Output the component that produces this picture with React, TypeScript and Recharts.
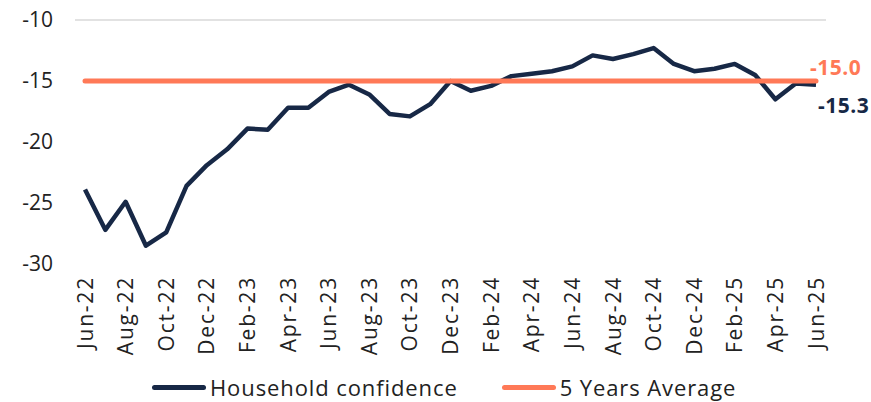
import React from 'react';
import {
  CartesianGrid,
  Legend,
  Line,
  LineChart,
  XAxis,
  YAxis
} from 'recharts';

const months = [
  'Jun-22', 'Jul-22', 'Aug-22', 'Sep-22', 'Oct-22', 'Nov-22', 'Dec-22',
  'Jan-23', 'Feb-23', 'Mar-23', 'Apr-23', 'May-23', 'Jun-23', 'Jul-23',
  'Aug-23', 'Sep-23', 'Oct-23', 'Nov-23', 'Dec-23', 'Jan-24', 'Feb-24',
  'Mar-24', 'Apr-24', 'May-24', 'Jun-24', 'Jul-24', 'Aug-24', 'Sep-24',
  'Oct-24', 'Nov-24', 'Dec-24', 'Jan-25', 'Feb-25', 'Mar-25', 'Apr-25',
  'May-25', 'Jun-25'
];

const householdConfidence = [
  -23.9, -27.2, -24.9, -28.5, -27.4, -23.6, -21.9,
  -20.6, -18.9, -19.0, -17.2, -17.2, -15.9, -15.3,
  -16.1, -17.7, -17.9, -16.9, -15.0, -15.8, -15.4,
  -14.6, -14.4, -14.2, -13.8, -12.9, -13.2, -12.8,
  -12.3, -13.6, -14.2, -14.0, -13.6, -14.5, -16.5,
  -15.2, -15.3
];

const fiveYearAverage = -15.0;

const yTicks = [-10, -15, -20, -25, -30];

const NAVY = '#172846';
const ORANGE = '#FF7957';
const FONT = '"Open Sans", "Liberation Sans", sans-serif';

const data = months.map((month, i) => ({
  month,
  household: householdConfidence[i],
  average: fiveYearAverage
}));

const lastIndex = months.length - 1;

function MonthTick({ x, y, payload }: any) {
  return (
    <g transform={`translate(${x},${y})`}>
      <text
        transform="rotate(-90)"
        textAnchor="end"
        dy="0.36em"
        fill="#222"
        fontSize={21}
        letterSpacing={1.8}
        fontFamily={FONT}
      >
        {payload.value}
      </text>
    </g>
  );
}

function EndLabel(color: string, dx: number, dy: number) {
  return (props: any) => {
    const { x, y, index, value } = props;
    if (index !== lastIndex) return null;
    return (
      <text
        x={x + dx}
        y={y + dy}
        fill={color}
        fontSize={21}
        fontWeight="bold"
        letterSpacing={0.5}
        fontFamily={FONT}
      >
        {Number(value).toFixed(1)}
      </text>
    );
  };
}

function LegendContent() {
  const item = (color: string, text: string, marginLeft: number) => (
    <div style={{ display: 'flex', alignItems: 'center', marginLeft }}>
      <div
        style={{
          width: 54,
          height: 5,
          borderRadius: 3,
          background: color,
          marginRight: 4
        }}
      />
      <span
        style={{ fontSize: 22, letterSpacing: 0.9, color: '#222', fontFamily: FONT }}
      >
        {text}
      </span>
    </div>
  );
  return (
    <div style={{ display: 'flex', alignItems: 'center', height: 30 }}>
      {item(NAVY, 'Household confidence', 152)}
      {item(ORANGE, '5 Years Average', 44)}
    </div>
  );
}

export default function App() {
  return (
    <div style={{ position: 'absolute', left: 0, top: 0, background: '#fff' }}>
      <LineChart
        width={871}
        height={402}
        data={data}
        margin={{ top: 20, right: 45, left: 0, bottom: 0 }}
      >
        <CartesianGrid
          vertical={false}
          horizontalValues={[-10]}
          stroke="#d9d9d9"
          strokeWidth={1.5}
        />
        <XAxis
          dataKey="month"
          interval={1}
          tickLine={false}
          axisLine={false}
          padding={{ left: 10, right: 10 }}
          height={108}
          tickSize={0}
          tickMargin={12}
          tick={<MonthTick />}
        />
        <YAxis
          domain={[-30, -10]}
          ticks={yTicks}
          width={75}
          tickLine={false}
          axisLine={false}
          tickSize={0}
          tickMargin={22}
          tick={{ fontSize: 21, fill: '#222', fontFamily: FONT }}
        />
        <Legend verticalAlign="bottom" content={<LegendContent />} />
        <Line
          dataKey="household"
          name="Household confidence"
          stroke={NAVY}
          strokeWidth={4.5}
          strokeLinejoin="round"
          dot={false}
          isAnimationActive={false}
          label={EndLabel(NAVY, 2, 28)}
        />
        <Line
          dataKey="average"
          name="5 Years Average"
          stroke={ORANGE}
          strokeWidth={5}
          strokeLinecap="round"
          dot={false}
          isAnimationActive={false}
          label={EndLabel(ORANGE, -6, -6)}
        />
      </LineChart>
    </div>
  );
}
